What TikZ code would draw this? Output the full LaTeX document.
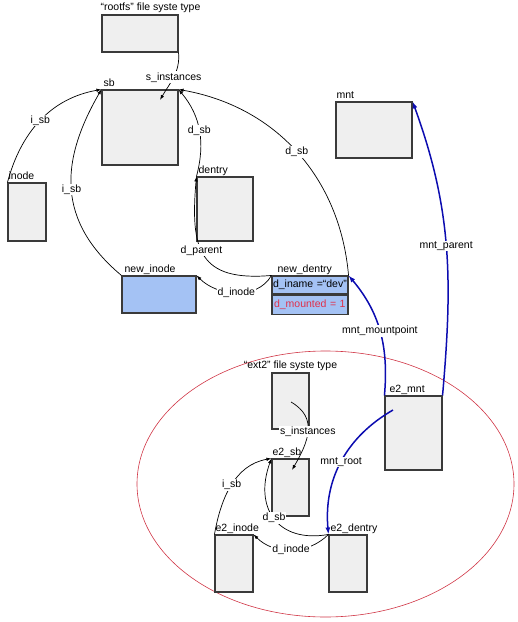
\documentclass[tikz,border=0pt]{standalone}
\usepackage{fontspec}
\setmainfont{Liberation Sans}
\usepackage{xcolor}
\definecolor{vfsgrey}{HTML}{EFEFEF}
\definecolor{vfsline}{HTML}{3A3A3A}
\definecolor{vfsblue}{HTML}{A4C2F4}
\definecolor{vfsnavy}{HTML}{0C0CB0}
\definecolor{vfsred}{HTML}{E0304A}
\definecolor{vfsring}{HTML}{D03444}
\usepackage{tikz}
\usetikzlibrary{arrows.meta, positioning}

\begin{document}
\begin{tikzpicture}[x=1pt, y=1pt, font=\fontsize{10.5}{12}\selectfont,
  box/.style={rectangle, draw=vfsline, fill=vfsgrey, line width=1.1pt, inner sep=0pt},
  newbox/.style={box, fill=vfsblue},
  ttl/.style={anchor=base west, inner sep=0pt},
  ptr/.style={draw=black, line width=0.7pt, -{Latex[length=5pt, width=3.5pt]}},
  mptr/.style={draw=vfsnavy, line width=1.5pt, -{Latex[length=7pt, width=5pt]}},
  lbl/.style={fill=white, inner sep=1pt}
]
\useasboundingbox (0,0) rectangle (518,-622);

\draw[vfsring, line width=0.6pt] (325.5,-484) ellipse [x radius=188.5, y radius=133];

% rootfs
\node[box, minimum width=76pt, minimum height=37pt] (fsroot) at (140,-33.5) {};
\node[box, minimum width=76pt, minimum height=75pt] (sb) at (140,-127.5) {};
\node[box, minimum width=38pt, minimum height=58pt] (inode) at (27,-212) {};
\node[box, minimum width=56pt, minimum height=64pt] (dentry) at (225,-209) {};
\node[newbox, minimum width=74pt, minimum height=37pt] (newinode) at (159,-294.5) {};
\node[newbox, minimum width=76pt, minimum height=18pt, text width=74pt, align=left] (ndname) at (310,-285) {d\_iname =“dev”};
\node[newbox, minimum width=76pt, minimum height=19pt, text width=72pt, align=left, text=vfsred, anchor=north] (ndmount) at (ndname.south) {d\_mounted = 1};
\node[box, minimum width=76pt, minimum height=56pt] (mnt) at (374,-130) {};

\node[ttl] (fsrootT) at ([xshift=-1pt, yshift=4pt]fsroot.north west) {“rootfs” file syste type};
\node[ttl] (sbT) at ([xshift=2pt, yshift=3pt]sb.north west) {sb};
\node[ttl] (inodeT) at ([xshift=1pt, yshift=3pt]inode.north west) {inode};
\node[ttl] (dentryT) at ([xshift=2pt, yshift=3pt]dentry.north west) {dentry};
\node[ttl] (newinodeT) at ([xshift=3pt, yshift=3pt]newinode.north west) {new\_inode};
\node[ttl] (newdentryT) at ([xshift=6pt, yshift=3pt]ndname.north west) {new\_dentry};
\node[ttl] (mntT) at ([xshift=1pt, yshift=3pt]mnt.north west) {mnt};

% ext2
\node[box, minimum width=37pt, minimum height=56pt] (fsext) at (290.5,-401) {};
\node[box, minimum width=37pt, minimum height=57pt] (esb) at (290.5,-487.5) {};
\node[box, minimum width=57pt, minimum height=74pt] (emnt) at (413.5,-433) {};
\node[box, minimum width=38pt, minimum height=57pt] (einode) at (234,-563.5) {};
\node[box, minimum width=38pt, minimum height=57pt] (edentry) at (348,-563.5) {};

\node[ttl, anchor=base] (fsextT) at ([yshift=4pt]fsext.north) {“ext2” file syste type};
\node[ttl] (esbT) at ([xshift=1pt, yshift=3pt]esb.north west) {e2\_sb};
\node[ttl] (emntT) at ([xshift=5pt, yshift=3pt]emnt.north west) {e2\_mnt};
\node[ttl] (einodeT) at ([xshift=1pt, yshift=3pt]einode.north west) {e2\_inode};
\node[ttl] (edentryT) at ([xshift=2pt, yshift=3pt]edentry.north west) {e2\_dentry};

\coordinate (sbin) at (160,-100);
\coordinate (fsextin) at (291,-402);
\coordinate (esbin) at (292,-470);
\coordinate (emntin) at (393,-410);

\draw[ptr] (fsroot.south east) to[out=-85, in=60] node[lbl] {s\_instances} (sbin);
\draw[ptr] (inode.north west) to[out=75, in=190] node[lbl] {i\_sb} (sb.north west);
\draw[ptr] (newinode.north west) to[out=140, in=240, looseness=1.15] node[lbl] {i\_sb} (sb.north west);
\draw[ptr] (dentry.north west) to[out=75, in=-50] node[lbl] {d\_sb} (sb.north east);
\draw[ptr] (ndname.north west) to[out=185, in=-95, looseness=1.5] node[lbl, pos=0.55] {d\_parent} (dentry.north west);
\draw[ptr] (ndname.north west) to[out=-120, in=-45] node[lbl] {d\_inode} (newinode.north east);
\draw[ptr] (ndname.north east) to[out=95, in=-10] node[lbl] {d\_sb} (sb.north east);

\draw[mptr] (emnt.north west) to[out=85, in=-50] node[lbl] {mnt\_mountpoint} (ndname.north east);
\draw[mptr] (emnt.north east) to[out=85, in=-70] node[lbl] {mnt\_parent} (mnt.north east);
\draw[mptr] (emntin) to[out=210, in=95] node[lbl] {mnt\_root} (edentry.north west);

\draw[ptr] (fsextin) to[out=-30, in=60, looseness=1.2] node[lbl] {s\_instances} (esbin);
\draw[ptr] (einode.north west) to[out=80, in=190] node[lbl] {i\_sb} (esb.north west);
\draw[ptr] (edentry.north west) to[out=190, in=-110, looseness=1.4] node[lbl] {d\_sb} (esb.north west);
\draw[ptr] (edentry.north west) to[out=-135, in=-45] node[lbl] {d\_inode} (einode.north east);
\end{tikzpicture}
\end{document}
